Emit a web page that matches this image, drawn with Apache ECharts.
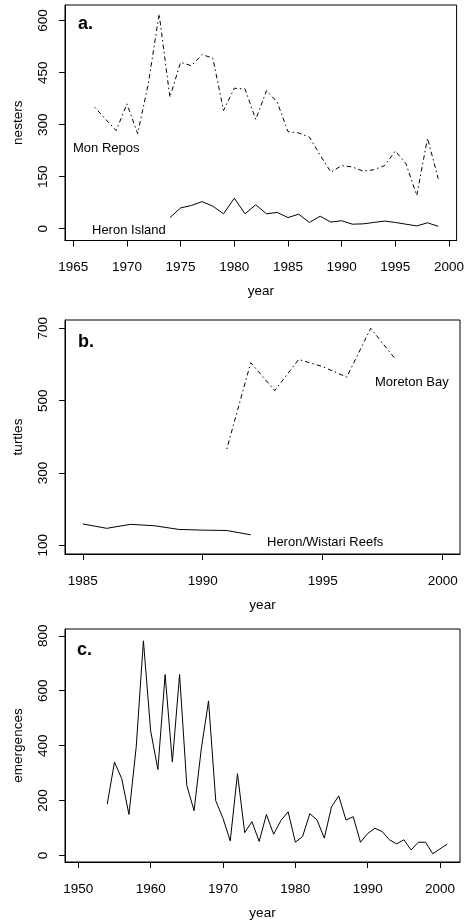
<!DOCTYPE html>
<html>
<head>
<meta charset="utf-8">
<script src="https://cdn.jsdelivr.net/npm/echarts@6/dist/echarts.min.js"></script>
<style>
  html, body { margin: 0; padding: 0; background: #fff; }
  #chart { width: 467px; height: 921px; }
</style>
</head>
<body>
<div id="chart"></div>
<script>
// panel a: nesters
var monReposYears = [1967, 1968, 1969, 1970, 1971, 1972, 1973, 1974, 1975, 1976, 1977, 1978, 1979, 1980, 1981, 1982, 1983,
    1984, 1985, 1986, 1987, 1988, 1989, 1990, 1991, 1992, 1993, 1994, 1995, 1996, 1997, 1998, 1999];
var monReposNesters = [350, 316, 283, 360, 274, 420, 619, 379, 480, 470, 502, 492, 341, 405, 403, 315, 398,
    365, 280, 276, 264, 212, 163, 182, 178, 166, 170, 182, 224, 187, 96, 261, 144];
var heronIslandYears = [1974, 1975, 1976, 1977, 1978, 1979, 1980, 1981, 1982, 1983, 1984, 1985, 1986,
    1987, 1988, 1989, 1990, 1991, 1992, 1993, 1994, 1995, 1996, 1997, 1998, 1999];
var heronIslandNesters = [32, 60, 67, 78, 65, 43, 88, 43, 69, 43, 47, 32, 42,
    18, 36, 19, 23, 13, 14, 18, 22, 18, 13, 8, 17, 7];

// panel b: turtles
var moretonYears = [1991, 1992, 1993, 1994, 1995, 1996, 1997, 1998];
var moretonTurtles = [366, 605, 528, 614, 594, 565, 700, 617];
var reefsYears = [1985, 1986, 1987, 1988, 1989, 1990, 1991, 1992];
var reefsTurtles = [159, 147, 158, 154, 144, 142, 141, 129];

// panel c: emergences
var emergYears = [];
for (var y = 1954; y <= 2001; y++) emergYears.push(y);
var emergences = [187, 340, 280, 149, 394, 782, 454, 313, 659, 340,
    659, 255, 163, 388, 563, 199, 135, 53, 298, 83,
    123, 51, 149, 77, 127, 159, 48, 69, 152, 129,
    63, 177, 217, 129, 141, 48, 80, 99, 87, 57,
    42, 57, 20, 48, 48, 6, 24, 41];

// tick labels
var xTicksA = [1965, 1970, 1975, 1980, 1985, 1990, 1995, 2000];
var yTicksA = [0, 150, 300, 450, 600];
var xTicksB = [1985, 1990, 1995, 2000];
var yTicksB = [100, 300, 500, 700];
var xTicksC = [1950, 1960, 1970, 1980, 1990, 2000];
var yTicksC = [0, 200, 400, 600, 800];

var FONT = 'Liberation Sans, Arial, sans-serif';
var dotdash = [1.5, 3, 4.5, 3];

function pairs(xs, ys) {
    return xs.map(function (x, i) { return [x, ys[i]] });
}

function xAxis(idx, min, max, ticks) {
    return {
        type: 'value', gridIndex: idx, min: min, max: max,
        name: 'year', nameLocation: 'middle', nameGap: 44,
        nameTextStyle: { color: '#000', fontSize: 13.5, fontFamily: FONT },
        splitLine: { show: false },
        axisLine: { show: true, onZero: false, lineStyle: { color: '#000', width: 1 } },
        axisTick: { show: true, length: 6, customValues: ticks, lineStyle: { color: '#000' } },
        axisLabel: {
            customValues: ticks, margin: 20, color: '#000', fontSize: 13.5, fontFamily: FONT,
            formatter: function (v) { return String(v) }
        }
    };
}

function yAxis(idx, min, max, ticks, name) {
    return {
        type: 'value', gridIndex: idx, min: min, max: max,
        name: name, nameLocation: 'middle', nameGap: 40, nameRotate: 90,
        nameTextStyle: { color: '#000', fontSize: 13.5, fontFamily: FONT },
        splitLine: { show: false },
        axisLine: { show: true, onZero: false, lineStyle: { color: '#000', width: 1 } },
        axisTick: { show: true, length: 6, customValues: ticks, lineStyle: { color: '#000' } },
        axisLabel: {
            customValues: ticks, rotate: 90, margin: 15, color: '#000', fontSize: 13.5, fontFamily: FONT,
            formatter: function (v) { return String(v) }
        }
    };
}

function line(idx, data, dashed) {
    return {
        type: 'line', xAxisIndex: idx, yAxisIndex: idx, data: data,
        symbol: 'none', animation: false, silent: true,
        lineStyle: { color: '#000', width: 1, type: dashed ? dotdash : 'solid' }
    };
}

function txt(x, y, s, size, bold) {
    return {
        type: 'text', x: x, y: y, silent: true,
        style: {
            text: s, fill: '#000', fontSize: size, fontFamily: FONT,
            fontWeight: bold ? 'bold' : 'normal', align: 'left', verticalAlign: 'middle'
        }
    };
}

var myChart = echarts.init(document.getElementById('chart'), null, { renderer: 'canvas' });

var gridStyle = { show: true, borderColor: '#000', borderWidth: 1, containLabel: false };
var option = {
    backgroundColor: '#fff',
    animation: false,
    grid: [
        Object.assign({ left: 65, top: 5, width: 395, height: 235.5 }, gridStyle),
        Object.assign({ left: 65, top: 320, width: 395, height: 234 }, gridStyle),
        Object.assign({ left: 65, top: 629, width: 395, height: 235 }, gridStyle)
    ],
    xAxis: [
        xAxis(0, 1964.23, 2000.71, xTicksA),
        xAxis(1, 1984.26, 2000.72, xTicksB),
        xAxis(2, 1948.16, 2002.76, xTicksC)
    ],
    yAxis: [
        yAxis(0, -34, 645, yTicksA, 'nesters'),
        yAxis(1, 76, 723, yTicksB, 'turtles'),
        yAxis(2, -24, 825, yTicksC, 'emergences')
    ],
    series: [
        line(0, pairs(monReposYears, monReposNesters), true),
        line(0, pairs(heronIslandYears, heronIslandNesters), false),
        line(1, pairs(moretonYears, moretonTurtles), true),
        line(1, pairs(reefsYears, reefsTurtles), false),
        line(2, pairs(emergYears, emergences), false)
    ],
    graphic: [
        txt(78, 24, 'a.', 18, true),
        txt(78, 342, 'b.', 18, true),
        txt(77, 650.5, 'c.', 18, true),
        txt(73, 148.5, 'Mon Repos', 13),
        txt(92, 230.5, 'Heron Island', 13),
        txt(375, 382, 'Moreton Bay', 13),
        txt(267, 542, 'Heron/Wistari Reefs', 13)
    ]
};
myChart.setOption(option);
</script>
</body>
</html>
